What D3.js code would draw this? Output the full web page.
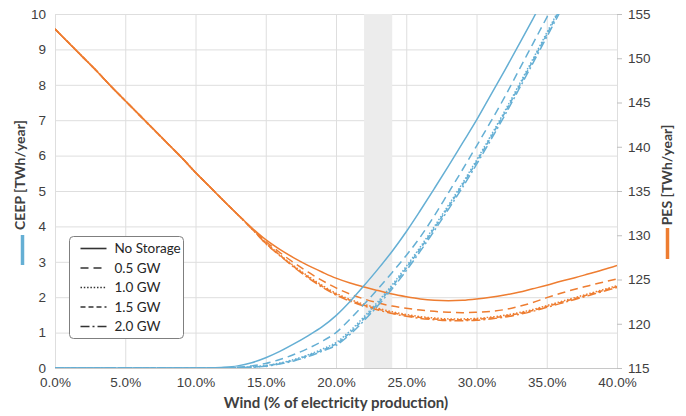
<!DOCTYPE html>
<html>
<head>
<meta charset="utf-8">
<script src="https://cdn.jsdelivr.net/npm/d3@7"></script>
<style>
  body { margin: 0; background: #fff; }
  svg { font-family: Lato, "Open Sans", sans-serif; }
</style>
</head>
<body>
<svg width="686" height="416"></svg>
<script>
/* global d3 */

// wind share, % of electricity production
const windPct = [0, 1, 2, 3, 4, 5, 6, 7, 8, 9, 10, 11, 12, 13, 14, 15, 16, 17, 18, 19, 20,
  21, 22, 23, 24, 25, 26, 27, 28, 29, 30, 31, 32, 33, 34, 35, 36, 37, 38, 39, 40];

const seriesNames = ['No Storage', '0.5 GW', '1.0 GW', '1.5 GW', '2.0 GW'];

// CEEP [TWh/year], left axis
const ceepNone = [0, 0, 0, 0, 0, 0, 0, 0, 0, 0, 0, 0.005, 0.02, 0.06, 0.15, 0.29, 0.47, 0.68, 0.91, 1.16, 1.48,
  1.88, 2.33, 2.8, 3.3, 3.85, 4.45, 5.07, 5.7, 6.35, 7.0, 7.7, 8.4, 9.12, 9.85, 10.6, 11.35, 12.1, 12.85, 13.6, 14.35];
const ceep05 = [0, 0, 0, 0, 0, 0, 0, 0, 0, 0, 0, 0, 0, 0.02, 0.06, 0.13, 0.24, 0.38, 0.55, 0.75, 1.0,
  1.38, 1.8, 2.24, 2.7, 3.18, 3.7, 4.3, 4.95, 5.6, 6.27, 6.95, 7.65, 8.4, 9.15, 9.9, 10.65, 11.4, 12.15, 12.9, 13.65];
const ceep10 = [0, 0, 0, 0, 0, 0, 0, 0, 0, 0, 0, 0, 0, 0.01, 0.03, 0.07, 0.14, 0.24, 0.37, 0.53, 0.72,
  1.05, 1.45, 1.88, 2.35, 2.87, 3.42, 4.0, 4.6, 5.22, 5.87, 6.55, 7.25, 7.98, 8.72, 9.47, 10.23, 11.0, 11.75, 12.5, 13.25];
const ceep15 = [0, 0, 0, 0, 0, 0, 0, 0, 0, 0, 0, 0, 0, 0.01, 0.03, 0.06, 0.13, 0.22, 0.35, 0.5, 0.68,
  1.0, 1.4, 1.83, 2.3, 2.82, 3.37, 3.95, 4.55, 5.17, 5.82, 6.5, 7.2, 7.93, 8.67, 9.42, 10.18, 10.95, 11.7, 12.45, 13.2];
const ceep20 = [0, 0, 0, 0, 0, 0, 0, 0, 0, 0, 0, 0, 0, 0.01, 0.02, 0.05, 0.11, 0.2, 0.32, 0.47, 0.64,
  0.95, 1.34, 1.77, 2.24, 2.75, 3.3, 3.88, 4.48, 5.1, 5.75, 6.43, 7.13, 7.86, 8.6, 9.35, 10.1, 10.87, 11.62, 12.37, 13.12];

// PES [TWh/year], right axis
const pesNone = [153.3, 151.7, 150.1, 148.5, 146.8, 145.2, 143.6, 142.0, 140.4, 138.8, 137.1, 135.5, 133.9, 132.35, 130.85,
  129.5, 128.4, 127.45, 126.6, 125.85, 125.15, 124.6, 124.15, 123.75, 123.35, 123.05, 122.8, 122.65, 122.6, 122.65,
  122.8, 123.0, 123.25, 123.55, 123.95, 124.35, 124.8, 125.2, 125.65, 126.1, 126.6];
const pes05 = [153.3, 151.7, 150.1, 148.5, 146.8, 145.2, 143.6, 142.0, 140.4, 138.8, 137.1, 135.5, 133.9, 132.35, 130.8,
  129.3, 128.05, 126.9, 125.85, 124.9, 124.05, 123.35, 122.8, 122.35, 122.0, 121.75, 121.55, 121.4, 121.3, 121.25,
  121.3, 121.4, 121.6, 121.95, 122.4, 122.95, 123.45, 123.9, 124.3, 124.7, 125.05];
const pes10 = [153.3, 151.7, 150.1, 148.5, 146.8, 145.2, 143.6, 142.0, 140.4, 138.8, 137.1, 135.5, 133.9, 132.35, 130.75,
  129.15, 127.8, 126.55, 125.4, 124.35, 123.45, 122.75, 122.2, 121.75, 121.35, 121.05, 120.8, 120.65, 120.55, 120.55,
  120.6, 120.75, 120.95, 121.25, 121.6, 122.05, 122.5, 122.95, 123.4, 123.85, 124.3];
const pes15 = [153.3, 151.7, 150.1, 148.5, 146.8, 145.2, 143.6, 142.0, 140.4, 138.8, 137.1, 135.5, 133.9, 132.35, 130.75,
  129.1, 127.75, 126.45, 125.3, 124.25, 123.35, 122.65, 122.1, 121.65, 121.25, 120.95, 120.7, 120.55, 120.45, 120.45,
  120.5, 120.65, 120.85, 121.15, 121.5, 121.95, 122.4, 122.85, 123.3, 123.75, 124.2];
const pes20 = [153.3, 151.7, 150.1, 148.5, 146.8, 145.2, 143.6, 142.0, 140.4, 138.8, 137.1, 135.5, 133.9, 132.35, 130.75,
  129.05, 127.7, 126.4, 125.2, 124.15, 123.25, 122.55, 122.0, 121.55, 121.15, 120.85, 120.6, 120.45, 120.35, 120.35,
  120.4, 120.55, 120.75, 121.05, 121.4, 121.85, 122.3, 122.75, 123.2, 123.65, 124.1];

const ceepTicks = [0, 1, 2, 3, 4, 5, 6, 7, 8, 9, 10];
const pesTicks = [115, 120, 125, 130, 135, 140, 145, 150, 155];
const windTicks = [0, 5, 10, 15, 20, 25, 30, 35, 40];
const band = [22, 24];

const blue = '#65afd4';
const orange = '#ee7d31';
const dashes = ['none', '8,5', '1.5,1.8', '5,3', '9,3,2,3'];

const svg = d3.select('svg');
const plot = { left: 55, right: 617, top: 14, bottom: 368 };

const x = d3.scaleLinear().domain([0, 40]).range([plot.left, plot.right]);
const yL = d3.scaleLinear().domain([0, 10]).range([plot.bottom, plot.top]);
const yR = d3.scaleLinear().domain([115, 155]).range([plot.bottom, plot.top]);

svg.append('defs').append('clipPath')
  .attr('id', 'clip')
  .append('rect')
  .attr('x', plot.left)
  .attr('y', plot.top)
  .attr('width', plot.right - plot.left)
  .attr('height', plot.bottom - plot.top);

// grid
const grid = svg.append('g').attr('class', 'grid');
grid.selectAll('line.h')
  .data(ceepTicks)
  .enter().append('line')
  .attr('x1', plot.left).attr('x2', plot.right)
  .attr('y1', d => yL(d) + 0.5).attr('y2', d => yL(d) + 0.5)
  .attr('stroke', d => (d === 0 ? '#c8c8c8' : '#dedede'));
grid.selectAll('line.v')
  .data(windTicks)
  .enter().append('line')
  .attr('y1', plot.top).attr('y2', plot.bottom)
  .attr('x1', d => x(d) + 0.5).attr('x2', d => x(d) + 0.5)
  .attr('stroke', '#dedede');

// highlighted range
svg.append('rect')
  .attr('x', x(band[0]))
  .attr('y', plot.top)
  .attr('width', x(band[1]) - x(band[0]))
  .attr('height', plot.bottom - plot.top)
  .attr('fill', '#ececec');

// axes
const tickText = (sel) => sel.selectAll('text')
  .attr('fill', '#404040')
  .style('font-size', '13.5px');

svg.append('g')
  .attr('transform', `translate(${plot.left - 3},0)`)
  .call(d3.axisLeft(yL).tickValues(ceepTicks).tickSize(0).tickPadding(6))
  .call(g => g.select('.domain').remove())
  .call(tickText);

svg.append('g')
  .attr('transform', `translate(${plot.right},0)`)
  .call(d3.axisRight(yR).tickValues(pesTicks).tickSize(5).tickPadding(6))
  .call(g => g.select('.domain').remove())
  .call(g => g.selectAll('line').attr('stroke', '#bfbfbf'))
  .call(tickText);

svg.append('g')
  .attr('transform', `translate(0,${plot.bottom + 3})`)
  .call(d3.axisBottom(x).tickValues(windTicks).tickSize(0).tickPadding(6)
    .tickFormat(d => `${d.toFixed(1)}%`))
  .call(g => g.select('.domain').remove())
  .call(tickText);

// curves
const ceepSeries = [ceepNone, ceep05, ceep10, ceep15, ceep20];
const pesSeries = [pesNone, pes05, pes10, pes15, pes20];

const lineL = d3.line()
  .x((d, i) => x(windPct[i]))
  .y(d => yL(d))
  .curve(d3.curveMonotoneX);
const lineR = d3.line()
  .x((d, i) => x(windPct[i]))
  .y(d => yR(d))
  .curve(d3.curveMonotoneX);

const curves = svg.append('g').attr('clip-path', 'url(#clip)');

curves.selectAll('path.pes')
  .data(pesSeries)
  .enter().append('path')
  .attr('class', 'pes')
  .attr('d', lineR)
  .attr('fill', 'none')
  .attr('stroke', orange)
  .attr('stroke-width', 1.5)
  .attr('stroke-dasharray', (d, i) => dashes[i]);

curves.selectAll('path.ceep')
  .data(ceepSeries)
  .enter().append('path')
  .attr('class', 'ceep')
  .attr('d', lineL)
  .attr('fill', 'none')
  .attr('stroke', blue)
  .attr('stroke-width', 1.5)
  .attr('stroke-dasharray', (d, i) => dashes[i]);

// axis titles
svg.append('text')
  .attr('x', (plot.left + plot.right) / 2)
  .attr('y', 408)
  .attr('text-anchor', 'middle')
  .attr('font-weight', 'bold')
  .attr('fill', '#404040')
  .style('font-size', '15px')
  .text('Wind (% of electricity production)');

svg.append('text')
  .attr('transform', 'translate(25,175) rotate(-90)')
  .attr('text-anchor', 'middle')
  .attr('font-weight', 'bold')
  .attr('fill', '#404040')
  .style('font-size', '14px')
  .text('CEEP [TWh/year]');
svg.append('line')
  .attr('x1', 22.5).attr('x2', 22.5)
  .attr('y1', 235).attr('y2', 265)
  .attr('stroke', blue)
  .attr('stroke-width', 3.5);

svg.append('text')
  .attr('transform', 'translate(672,175) rotate(-90)')
  .attr('text-anchor', 'middle')
  .attr('font-weight', 'bold')
  .attr('fill', '#404040')
  .style('font-size', '14px')
  .text('PES [TWh/year]');
svg.append('line')
  .attr('x1', 667.5).attr('x2', 667.5)
  .attr('y1', 228).attr('y2', 259)
  .attr('stroke', orange)
  .attr('stroke-width', 3.5);

// legend
const legend = svg.append('g').attr('transform', 'translate(69.5,236.5)');
legend.append('rect')
  .attr('width', 114)
  .attr('height', 102)
  .attr('rx', 4)
  .attr('fill', '#fff')
  .attr('stroke', '#7f7f7f');

const item = legend.selectAll('g.item')
  .data(seriesNames)
  .enter().append('g')
  .attr('class', 'item')
  .attr('transform', (d, i) => `translate(0,${12 + (i * 19.5)})`);
item.append('line')
  .attr('x1', 11).attr('x2', 37)
  .attr('stroke', '#333')
  .attr('stroke-width', 1.6)
  .attr('stroke-dasharray', (d, i) => dashes[i]);
item.append('text')
  .attr('x', 45)
  .attr('dy', '0.35em')
  .attr('fill', '#262626')
  .style('font-size', '13.5px')
  .text(d => d);
</script>
</body>
</html>
